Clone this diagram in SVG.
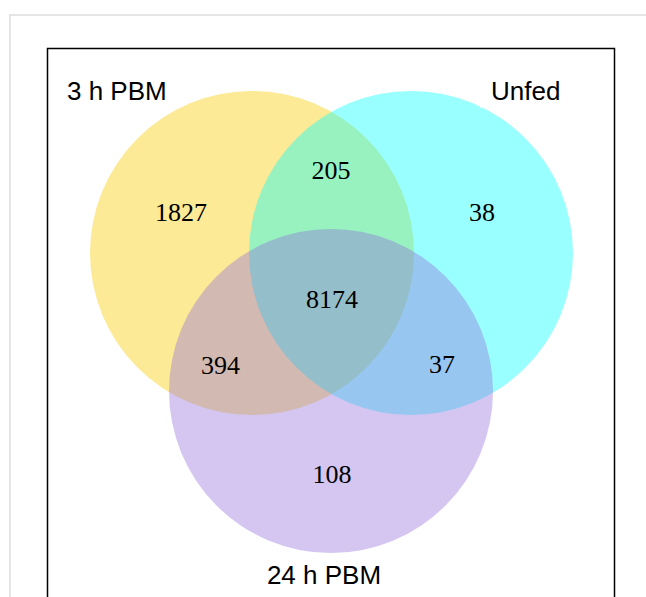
<svg xmlns="http://www.w3.org/2000/svg" width="646" height="597" viewBox="0 0 646 597">
  <style>
    .lbl { font-family: "Liberation Sans", Arial, sans-serif; font-size: 26px; fill: #000; }
    .num { font-family: "Liberation Serif", "Times New Roman", serif; font-size: 26px; fill: #000; text-anchor: middle; }
  </style>
  <rect x="0" y="0" width="646" height="597" fill="#ffffff"/>
  <rect x="10" y="15" width="700" height="620" fill="none" stroke="#dddddd" stroke-width="1.5"/>
  <rect x="47.5" y="48.5" width="567" height="600" fill="#ffffff" stroke="#000000" stroke-width="1.5"/>
  <g id="set-3h">
    <circle cx="252" cy="253" r="162" fill="#FCEA96"/>
  </g>
  <g id="set-unfed">
    <circle cx="411" cy="253" r="162" fill="#00FFFF" fill-opacity="0.4"/>
  </g>
  <g id="set-24h">
    <circle cx="331" cy="391" r="162" fill="#9370DB" fill-opacity="0.4"/>
  </g>
  <g id="labels">
    <text class="lbl" x="67" y="99.5">3 h PBM</text>
    <rect x="480" y="70" width="80" height="37.5" fill="#ffffff"/>
    <text class="lbl" x="491" y="100">Unfed</text>
    <text class="lbl" x="324" y="584" text-anchor="middle">24 h PBM</text>
  </g>
  <g id="counts">
    <text class="num" x="181" y="221">1827</text>
    <text class="num" x="331" y="179">205</text>
    <text class="num" x="482" y="221">38</text>
    <text class="num" x="332" y="308">8174</text>
    <text class="num" x="220.5" y="373.5">394</text>
    <text class="num" x="442" y="373">37</text>
    <text class="num" x="332" y="482.5">108</text>
  </g>
</svg>
